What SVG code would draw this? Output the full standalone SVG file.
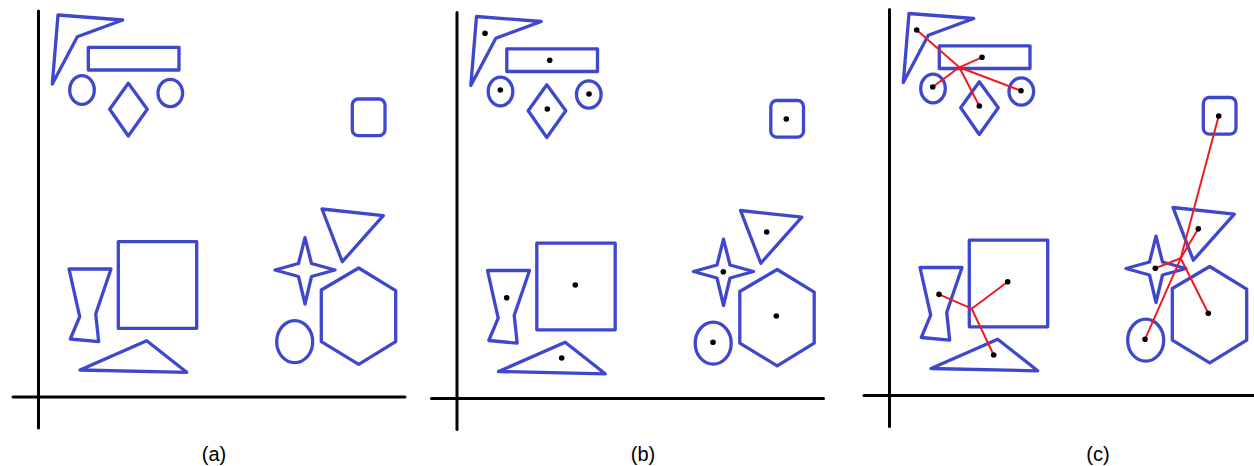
<svg xmlns="http://www.w3.org/2000/svg" xmlns:xlink="http://www.w3.org/1999/xlink" width="1254" height="466" viewBox="0 0 1254 466">
<style>
.s{fill:none;stroke:#3F48CC;stroke-width:3.3;stroke-linejoin:round;stroke-linecap:round}
.ax{fill:none;stroke:#000;stroke-width:3;stroke-linecap:round}
.d{fill:#000}
.e{fill:none;stroke:#ED1C24;stroke-width:2;stroke-linecap:round}
.lb{font-family:"Liberation Sans",Arial,sans-serif;font-size:20px;fill:#000;text-anchor:middle}
</style>
<defs>
<polygon id="g-boom" points="58,15 122.7,20 77.3,36.7 52.3,84"/>
<rect id="g-rect" x="88.3" y="47.3" width="90.7" height="22.7"/>
<ellipse id="g-ell1" cx="82" cy="90" rx="12.3" ry="14.3"/>
<polygon id="g-diam" points="128.3,83.3 147.3,109.3 128.3,136 109.7,109.3"/>
<ellipse id="g-ell2" cx="170.3" cy="93" rx="12.3" ry="13.7"/>
<rect id="g-rsq" x="352.3" y="99" width="32.7" height="36.7" rx="6"/>
<polygon id="g-vase" points="69,269 111,269 95.7,314 98.7,341.7 70.3,339 79.7,316.7"/>
<rect id="g-sq" x="118.3" y="241.7" width="78.4" height="86.6"/>
<polygon id="g-tri1" points="80,370 146.7,340.7 186.7,372.3"/>
<polygon id="g-star" points="305,237.7 311.5,263.5 335,270 311.5,276.5 305,304 298.5,276.5 275,270 298.5,263.5"/>
<polygon id="g-tri2" points="322,209 383.3,215.7 342.3,261.7"/>
<polygon id="g-hex" points="358.7,268 395.7,290.7 395.7,341.7 358.7,364.3 321.3,341.7 321.3,290"/>
<ellipse id="g-ell3" cx="294.7" cy="341.7" rx="18" ry="21"/>
<g id="g-axes">
<line x1="38.5" y1="11" x2="38.5" y2="428"/>
<line x1="13" y1="397" x2="405" y2="397"/>
</g>
</defs>

<g id="panel-a">
<g id="a-axes" class="ax"><use xlink:href="#g-axes"/></g>
<g id="a-boomerang" class="s"><use xlink:href="#g-boom"/></g>
<g id="a-rect" class="s"><use xlink:href="#g-rect"/></g>
<g id="a-ellipse-left" class="s"><use xlink:href="#g-ell1"/></g>
<g id="a-diamond" class="s"><use xlink:href="#g-diam"/></g>
<g id="a-ellipse-right" class="s"><use xlink:href="#g-ell2"/></g>
<g id="a-rounded-square" class="s"><use xlink:href="#g-rsq"/></g>
<g id="a-vase" class="s"><use xlink:href="#g-vase"/></g>
<g id="a-square" class="s"><use xlink:href="#g-sq"/></g>
<g id="a-triangle-bottom" class="s"><use xlink:href="#g-tri1"/></g>
<g id="a-star" class="s"><use xlink:href="#g-star"/></g>
<g id="a-triangle-top" class="s"><use xlink:href="#g-tri2"/></g>
<g id="a-hexagon" class="s"><use xlink:href="#g-hex"/></g>
<g id="a-circle" class="s"><use xlink:href="#g-ell3"/></g>
</g>

<g id="panel-b" transform="translate(418.5,1.5)">
<g id="b-axes" class="ax"><use xlink:href="#g-axes"/></g>
<g id="b-boomerang" class="s"><use xlink:href="#g-boom"/></g>
<g id="b-rect" class="s"><use xlink:href="#g-rect"/></g>
<g id="b-ellipse-left" class="s"><use xlink:href="#g-ell1"/></g>
<g id="b-diamond" class="s"><use xlink:href="#g-diam"/></g>
<g id="b-ellipse-right" class="s"><use xlink:href="#g-ell2"/></g>
<g id="b-rounded-square" class="s"><use xlink:href="#g-rsq"/></g>
<g id="b-vase" class="s"><use xlink:href="#g-vase"/></g>
<g id="b-square" class="s"><use xlink:href="#g-sq"/></g>
<g id="b-triangle-bottom" class="s"><use xlink:href="#g-tri1"/></g>
<g id="b-star" class="s"><use xlink:href="#g-star"/></g>
<g id="b-triangle-top" class="s"><use xlink:href="#g-tri2"/></g>
<g id="b-hexagon" class="s"><use xlink:href="#g-hex"/></g>
<g id="b-circle" class="s"><use xlink:href="#g-ell3"/></g>
</g>

<g id="panel-c" transform="translate(851,-1.5)">
<g id="c-axes" class="ax"><use xlink:href="#g-axes"/></g>
<g id="c-boomerang" class="s"><use xlink:href="#g-boom"/></g>
<g id="c-rect" class="s"><use xlink:href="#g-rect"/></g>
<g id="c-ellipse-left" class="s"><use xlink:href="#g-ell1"/></g>
<g id="c-diamond" class="s"><use xlink:href="#g-diam"/></g>
<g id="c-ellipse-right" class="s"><use xlink:href="#g-ell2"/></g>
<g id="c-rounded-square" class="s"><use xlink:href="#g-rsq"/></g>
<g id="c-vase" class="s"><use xlink:href="#g-vase"/></g>
<g id="c-square" class="s"><use xlink:href="#g-sq"/></g>
<g id="c-triangle-bottom" class="s"><use xlink:href="#g-tri1"/></g>
<g id="c-star" class="s"><use xlink:href="#g-star"/></g>
<g id="c-triangle-top" class="s"><use xlink:href="#g-tri2"/></g>
<g id="c-hexagon" class="s"><use xlink:href="#g-hex"/></g>
<g id="c-circle" class="s"><use xlink:href="#g-ell3"/></g>
</g>

<g id="connectors" class="e">
<line x1="959.3" y1="67.3" x2="916.7" y2="30"/>
<line x1="959.3" y1="67.3" x2="982" y2="57.3"/>
<line x1="959.3" y1="67.3" x2="932.7" y2="87"/>
<line x1="959.3" y1="67.3" x2="979.3" y2="106"/>
<line x1="959.3" y1="67.3" x2="1021" y2="90.7"/>
<line x1="971.7" y1="308.7" x2="939" y2="294.3"/>
<line x1="971.7" y1="308.7" x2="1007.7" y2="281.7"/>
<line x1="971.7" y1="308.7" x2="993.7" y2="355"/>
<line x1="1180.7" y1="258.3" x2="1155.3" y2="268.3"/>
<line x1="1180.7" y1="258.3" x2="1198.3" y2="228.7"/>
<line x1="1180.7" y1="258.3" x2="1208.3" y2="313.3"/>
<line x1="1180.7" y1="258.3" x2="1145" y2="339.3"/>
<line x1="1180.7" y1="258.3" x2="1218.7" y2="116"/>
</g>

<g id="dots-b" class="d">
<circle cx="485" cy="33.3" r="2.8"/>
<circle cx="549.7" cy="60.3" r="2.8"/>
<circle cx="500.3" cy="90" r="2.8"/>
<circle cx="547.3" cy="109" r="2.8"/>
<circle cx="589" cy="94" r="2.8"/>
<circle cx="786.3" cy="119" r="2.8"/>
<circle cx="506.7" cy="297.7" r="2.8"/>
<circle cx="575.3" cy="285" r="2.8"/>
<circle cx="561.7" cy="358" r="2.8"/>
<circle cx="723.3" cy="271.7" r="2.8"/>
<circle cx="766.7" cy="232" r="2.8"/>
<circle cx="776.3" cy="316" r="2.8"/>
<circle cx="713" cy="342.3" r="2.8"/>
</g>

<g id="dots-c" class="d">
<circle cx="916.7" cy="30" r="2.8"/>
<circle cx="982" cy="57.3" r="2.8"/>
<circle cx="932.7" cy="87" r="2.8"/>
<circle cx="979.3" cy="106" r="2.8"/>
<circle cx="1021" cy="90.7" r="2.8"/>
<circle cx="1218.7" cy="116" r="2.8"/>
<circle cx="939" cy="294.3" r="2.8"/>
<circle cx="1007.7" cy="281.7" r="2.8"/>
<circle cx="993.7" cy="355" r="2.8"/>
<circle cx="1155.3" cy="268.3" r="2.8"/>
<circle cx="1198.3" cy="228.7" r="2.8"/>
<circle cx="1208.3" cy="313.3" r="2.8"/>
<circle cx="1145" cy="339.3" r="2.8"/>
</g>

<g id="labels" class="lb">
<text x="214" y="461">(a)</text>
<text x="643" y="461">(b)</text>
<text x="1098" y="461">(c)</text>
</g>
</svg>
